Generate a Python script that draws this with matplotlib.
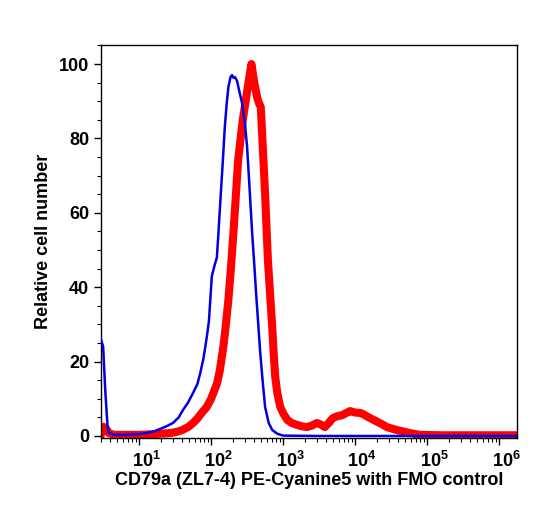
import numpy as np
import matplotlib
matplotlib.use("Agg")
import matplotlib.pyplot as plt
from matplotlib.ticker import LogLocator, NullFormatter, MultipleLocator, FuncFormatter
from matplotlib.transforms import ScaledTranslation

plt.rcParams['font.family'] = ['Liberation Sans', 'DejaVu Sans']
plt.rcParams['mathtext.fontset'] = 'custom'
plt.rcParams['mathtext.rm'] = 'Liberation Sans:bold'
plt.rcParams['mathtext.bf'] = 'Liberation Sans:bold'

# ------------------------------------------------------------
# Histogram data (log10 of fluorescence intensity, relative count)
# ------------------------------------------------------------
fmo_log = [0.47, 0.50, 0.53, 0.56, 0.58, 0.65, 0.80, 1.00, 1.10, 1.20, 1.33,
           1.40, 1.47, 1.55, 1.61, 1.68, 1.75, 1.81, 1.85, 1.89, 1.92, 1.95,
           1.97, 1.99, 2.01, 2.05, 2.08, 2.10, 2.125, 2.16, 2.19, 2.215, 2.24,
           2.27, 2.29, 2.31, 2.33, 2.36, 2.40, 2.43, 2.47, 2.50, 2.53, 2.57,
           2.60, 2.625, 2.655, 2.68, 2.715, 2.75, 2.80, 2.85, 2.92, 3.00, 3.50,
           4.50, 5.50, 6.25]
fmo_count = [26, 24, 12, 3, 0.8, 0.3, 0.3, 0.5, 0.8, 1.2, 2.2,
             2.8, 3.5, 5, 7, 9, 11.6, 14, 17, 20.5, 24, 28,
             31, 37, 43, 46, 48, 54, 62, 73, 83, 89, 93.8,
             96.5, 97, 96.3, 96.5, 95.5, 92, 89.5, 84, 77.7, 68, 54.6,
             46, 38.4, 30, 23, 15, 7.8, 3.5, 1.6, 0.6, 0.1, 0,
             0, 0, 0]

stain_log = [0.47, 0.50, 0.54, 0.58, 0.65, 1.00, 1.20, 1.44, 1.52, 1.60, 1.68,
             1.75, 1.81, 1.86, 1.94, 2.00, 2.04, 2.08, 2.12, 2.17, 2.20, 2.24,
             2.275, 2.31, 2.345, 2.375, 2.41, 2.44, 2.48, 2.51, 2.535, 2.56,
             2.60, 2.64, 2.665, 2.69, 2.72, 2.75, 2.77, 2.79, 2.82, 2.85, 2.87,
             2.89, 2.92, 2.96, 3.01, 3.06, 3.12, 3.19, 3.26, 3.33, 3.40, 3.47,
             3.53, 3.58, 3.63, 3.69, 3.75, 3.82, 3.88, 3.93, 4.00, 4.07, 4.12,
             4.18, 4.25, 4.31, 4.38, 4.44, 4.51, 4.58, 4.67, 4.76, 4.90, 5.20,
             6.25]
stain_count = [0.5, 2.5, 2, 0.8, 0.3, 0.3, 0.5, 0.8, 1.1, 1.6, 2.4,
               3.5, 4.7, 6, 7.8, 10, 12, 14, 17.5, 24, 29, 36.6,
               45, 54.6, 65, 74, 80, 85, 90, 93.8, 97, 100,
               95, 91, 89.5, 88.4, 77, 65, 56, 47, 38, 29, 22,
               16, 11.5, 7.8, 5.8, 4.3, 3.5, 3, 2.6, 2.4, 2.8, 3.5,
               3.0, 2.4, 3.4, 4.8, 5.3, 5.6, 6.2, 6.7, 6.3, 6.2, 5.8,
               5.1, 4.4, 3.8, 3.1, 2.4, 2.0, 1.6, 1.2, 0.8, 0.3, 0.2,
               0.2]

# ------------------------------------------------------------
# Figure
# ------------------------------------------------------------
fig = plt.figure(figsize=(5.38, 5.09), dpi=100)
ax = fig.add_axes([0.1877, 0.1395, 0.7733, 0.772])

ax.plot(10 ** np.array(stain_log), stain_count, color='#ff0000', lw=5.8,
        solid_joinstyle='round', zorder=2)
ax.plot(10 ** np.array(fmo_log), fmo_count, color='#0000e0', lw=1.8, zorder=3)

ax.set_xscale('log')
ax.set_xlim(10 ** 0.47, 10 ** 6.25)
ax.set_ylim(-0.54, 105.1)

ax.xaxis.set_major_locator(LogLocator(base=10, numticks=10))
ax.xaxis.set_minor_locator(LogLocator(base=10, subs=np.arange(2, 10), numticks=20))
ax.xaxis.set_minor_formatter(NullFormatter())
ax.xaxis.set_major_formatter(FuncFormatter(lambda v, p: r'$10^{%d}$' % round(np.log10(v))))

ax.yaxis.set_major_locator(MultipleLocator(20))
ax.yaxis.set_minor_locator(MultipleLocator(5))

ax.tick_params(which='major', length=5, width=1, labelsize=13, direction='out')
ax.tick_params(axis='x', which='major', pad=4)
ax.tick_params(which='minor', length=3, width=0.8, direction='out')
for lab in ax.get_yticklabels():
    lab.set_fontweight('bold')

for s in ax.spines.values():
    s.set_linewidth(1)

ax.set_xlabel('CD79a (ZL7-4) PE-Cyanine5 with FMO control', fontsize=13,
              fontweight='bold', labelpad=1)
ax.set_ylabel('Relative cell number', fontsize=13, fontweight='bold', labelpad=5)

# shift decade labels a little to the right, as in the original
fig.canvas.draw()
shift = ScaledTranslation(7 / 100, 0, fig.dpi_scale_trans)
for lab in ax.get_xticklabels():
    lab.set_transform(lab.get_transform() + shift)

fig.savefig('out.png', dpi=100)
